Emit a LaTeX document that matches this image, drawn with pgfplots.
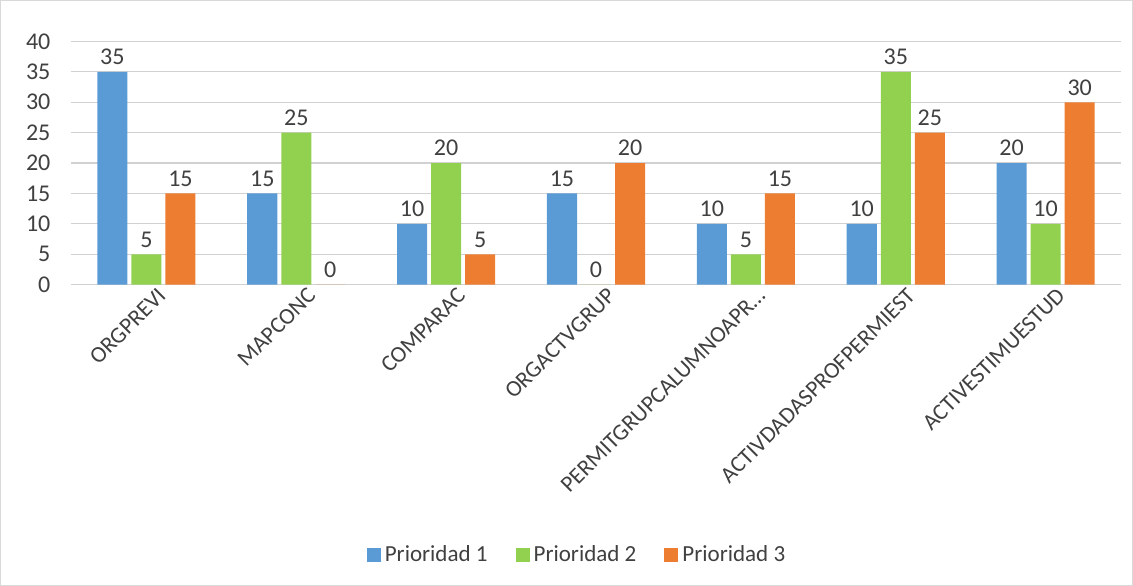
\documentclass[border=0pt]{standalone}
\usepackage{pgfplots}
\pgfplotsset{compat=1.18}
\usepackage{fontspec}
\setmainfont{Carlito}
\definecolor{pblue}{HTML}{5B9BD5}
\definecolor{pgreen}{HTML}{92D050}
\definecolor{porange}{HTML}{ED7D31}
\definecolor{txt}{HTML}{404040}
\begin{document}
\begin{tikzpicture}
\draw[black!15] (0.5pt,0.5pt) rectangle (566pt,292.5pt);
\begin{axis}[
  at={(36pt,150.5pt)}, anchor=south west,
  scale only axis, width=524pt, height=121.5pt,
  xmin=-0.5, xmax=6.5, ymin=0, ymax=40,
  ytick={0,5,...,40},
  xtick={0,1,2,3,4,5,6},
  xticklabels={ORGPREVI,MAPCONC,COMPARAC,ORGACTVGRUP,{PERMITGRUPCALUMNOAPR\ldots},ACTIVDADASPROFPERMIEST,ACTIVESTIMUESTUD},
  x tick label style={rotate=45, anchor=north east, font=\fontsize{11.5}{13}\selectfont, text=txt, inner sep=1pt, yshift=-3pt, xshift=4pt},
  y tick label style={font=\fontsize{12}{14}\selectfont, text=txt, xshift=-7pt},
  /pgf/number format/assume math mode=true,
  axis line style={draw=none},
  axis x line*=bottom,
  major tick length=0pt,
  ymajorgrids, grid style={black!18, line width=0.6pt},
  ybar, bar width=15pt,
  nodes near coords,
  every node near coord/.append style={font=\fontsize{12}{14}\selectfont, text=txt},
  clip=false,
  legend style={at={(0.5,-1.11)}, anchor=center, xshift=-9pt, draw=none, legend columns=-1,
    font=\fontsize{11.5}{13}\selectfont, text=txt,
    /tikz/every even column/.append style={column sep=12pt}},
  legend image code/.code={\fill[#1] (0pt,-3.5pt) rectangle (7pt,3.5pt);},
]
\addplot[fill=pblue, draw=none] coordinates {(0,35) (1,15) (2,10) (3,15) (4,10) (5,10) (6,20)};
\addplot[fill=pgreen, draw=none] coordinates {(0,5) (1,25) (2,20) (3,0) (4,5) (5,35) (6,10)};
\addplot[fill=porange, draw=none] coordinates {(0,15) (1,0) (2,5) (3,20) (4,15) (5,25) (6,30)};
\legend{Prioridad 1, Prioridad 2, Prioridad 3}
\end{axis}
\end{tikzpicture}
\end{document}
